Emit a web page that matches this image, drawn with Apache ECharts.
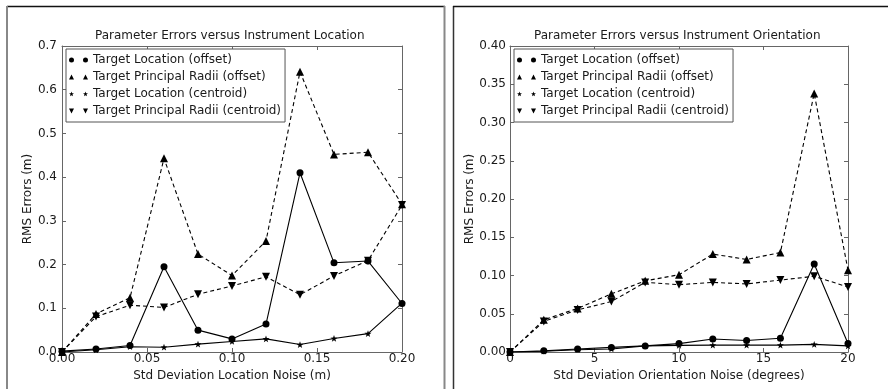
<!DOCTYPE html>
<html>
<head>
<meta charset="utf-8">
<script src="https://cdn.jsdelivr.net/npm/echarts@6/dist/echarts.min.js"></script>
<style>
html,body{margin:0;padding:0;background:#fff;}
#chart{width:888px;height:389px;}
</style>
</head>
<body>
<div id="chart"></div>
<script>
// ---- Data ----
const seriesNames = ['Target Location (offset)', 'Target Principal Radii (offset)', 'Target Location (centroid)', 'Target Principal Radii (centroid)'];

// Left chart: Std Deviation Location Noise (m)
const locNoise = [0.00, 0.02, 0.04, 0.06, 0.08, 0.10, 0.12, 0.14, 0.16, 0.18, 0.20];
const locTargetLocOffset = [0.002, 0.007, 0.015, 0.195, 0.050, 0.030, 0.064, 0.410, 0.204, 0.208, 0.111];
const locRadiiOffset = [0.000, 0.087, 0.124, 0.443, 0.224, 0.175, 0.254, 0.641, 0.452, 0.457, 0.338];
const locTargetLocCentroid = [0.000, 0.005, 0.012, 0.011, 0.018, 0.024, 0.030, 0.017, 0.031, 0.042, 0.112];
const locRadiiCentroid = [0.000, 0.081, 0.107, 0.102, 0.132, 0.151, 0.172, 0.131, 0.174, 0.209, 0.336];

// Right chart: Std Deviation Orientation Noise (degrees)
const oriNoise = [0, 2, 4, 6, 8, 10, 12, 14, 16, 18, 20];
const oriTargetLocOffset = [0.000, 0.0015, 0.004, 0.006, 0.008, 0.011, 0.017, 0.015, 0.018, 0.115, 0.011];
const oriRadiiOffset = [0.000, 0.042, 0.057, 0.076, 0.093, 0.101, 0.128, 0.121, 0.130, 0.338, 0.107];
const oriTargetLocCentroid = [0.000, 0.001, 0.003, 0.004, 0.008, 0.0086, 0.009, 0.009, 0.009, 0.010, 0.008];
const oriRadiiCentroid = [0.000, 0.040, 0.055, 0.066, 0.091, 0.088, 0.091, 0.089, 0.094, 0.099, 0.085];

// Tick labels
const locXTicks = ['0.00', '0.05', '0.10', '0.15', '0.20'];
const locYTicks = ['0.0', '0.1', '0.2', '0.3', '0.4', '0.5', '0.6', '0.7'];
const oriXTicks = ['0', '5', '10', '15', '20'];
const oriYTicks = ['0.00', '0.05', '0.10', '0.15', '0.20', '0.25', '0.30', '0.35', '0.40'];

// ---- Styling ----
const FONT = 'DejaVu Sans';
const TXT = '#1a1a1a';
const AX = '#666';
const STAR = 'path://M0,-10L2.35,-3.24L9.51,-3.09L3.8,1.24L5.88,8.09L0,4L-5.88,8.09L-3.8,1.24L-9.51,-3.09L-2.35,-3.24Z';

const legendIcons = [
  'path://M0,2.5A2.5,2.5,0,1,1,5,2.5A2.5,2.5,0,1,1,0,2.5ZM14,2.5A2.5,2.5,0,1,1,19,2.5A2.5,2.5,0,1,1,14,2.5Z',
  'path://M0,5L2.5,0L5,5ZM14,5L16.5,0L19,5Z',
  'path://M2.5,0.1L3.1,1.8L4.9,1.8L3.5,2.9L4,4.7L2.5,3.7L1,4.7L1.5,2.9L0.1,1.8L1.9,1.8ZM16.5,0.1L17.1,1.8L18.9,1.8L17.5,2.9L18,4.7L16.5,3.7L15,4.7L15.5,2.9L14.1,1.8L15.9,1.8ZM0,0L0,0ZM19,5L19,5Z',
  'path://M0,0L5,0L2.5,5ZM14,0L19,0L16.5,5Z'
];

const grids = [
  {left: 62, top: 46, width: 340, height: 306},
  {left: 510, top: 46, width: 338, height: 306}
];

function tickFmt(arr, min, interval) {
  return function (v) {
    const i = Math.round((v - min) / interval);
    return arr[i] !== undefined ? arr[i] : '';
  };
}

function mkX(gi, min, max, interval, ticks, name, pos) {
  const bottom = pos === 'bottom';
  return {
    type: 'value', gridIndex: gi, position: pos, min: min, max: max, interval: interval,
    name: bottom ? name : '', nameLocation: 'middle', nameGap: 13,
    nameTextStyle: {fontFamily: FONT, fontSize: 12, color: TXT},
    axisLine: {show: true, onZero: false, lineStyle: {color: AX, width: 1}},
    axisTick: {show: true, inside: true, length: 4, lineStyle: {color: AX}},
    axisLabel: {show: bottom, margin: 1, fontFamily: FONT, fontSize: 12, color: TXT,
      formatter: tickFmt(ticks, min, interval)},
    splitLine: {show: false}
  };
}
function mkY(gi, min, max, interval, ticks, name, pos, gap, margin) {
  const left = pos === 'left';
  return {
    type: 'value', gridIndex: gi, position: pos, min: min, max: max, interval: interval,
    name: left ? name : '', nameLocation: 'middle', nameGap: gap,
    nameTextStyle: {fontFamily: FONT, fontSize: 12, color: TXT},
    axisLine: {show: true, onZero: false, lineStyle: {color: AX, width: 1}},
    axisTick: {show: true, inside: true, length: 4, lineStyle: {color: AX}},
    axisLabel: {show: left, margin: margin, fontFamily: FONT, fontSize: 12, color: TXT,
      formatter: tickFmt(ticks, min, interval)},
    splitLine: {show: false}
  };
}

function pairs(xs, ys) { return xs.map(function (x, i) { return [x, ys[i]]; }); }

function mkSeries(gi, xs, ysList) {
  const specs = [
    {symbol: 'circle', size: 7, dash: 'solid', rot: 0},
    {symbol: 'triangle', size: 8, dash: [4, 3], rot: 0},
    {symbol: STAR, size: 7, dash: 'solid', rot: 0},
    {symbol: 'triangle', size: 8, dash: [4, 3], rot: 180}
  ];
  return ysList.map(function (ys, k) {
    const s = specs[k];
    return {
      name: seriesNames[k], type: 'line', xAxisIndex: gi * 2, yAxisIndex: gi * 2,
      data: pairs(xs, ys),
      symbol: s.symbol, symbolSize: s.size, symbolRotate: s.rot, symbolKeepAspect: true,
      showSymbol: true, showAllSymbol: true,
      itemStyle: {color: '#000', borderWidth: 0},
      lineStyle: {color: '#000', width: 1.1, type: s.dash},
      emphasis: {disabled: true}, animation: false, z: 3
    };
  });
}

function mkLegend(left, top) {
  return {
    orient: 'vertical', left: left, top: top,
    padding: [4, 4, 4, 3], itemGap: 3, itemWidth: 19, itemHeight: 5,
    backgroundColor: '#fff', borderColor: '#555', borderWidth: 1, borderRadius: 0,
    selectedMode: false,
    textStyle: {fontFamily: FONT, fontSize: 12, color: TXT, lineHeight: 14, padding: [0, 0, 0, 0]},
    data: seriesNames.map(function (n, i) {
      return {name: n, icon: legendIcons[i], itemStyle: {color: '#000', borderWidth: 0}};
    }),
    z: 10
  };
}

const option = {
  backgroundColor: '#fff',
  animation: false,
  title: [
    {text: 'Parameter Errors versus Instrument Location', left: 95, top: 30, padding: 0,
      textStyle: {fontFamily: FONT, fontSize: 12, fontWeight: 'normal', color: TXT}},
    {text: 'Parameter Errors versus Instrument Orientation', left: 534, top: 30, padding: 0,
      textStyle: {fontFamily: FONT, fontSize: 12, fontWeight: 'normal', color: TXT}}
  ],
  grid: grids,
  legend: [mkLegend(66, 49), mkLegend(514, 49)],
  xAxis: [
    mkX(0, 0, 0.2, 0.05, locXTicks, 'Std Deviation Location Noise (m)', 'bottom'),
    mkX(0, 0, 0.2, 0.05, locXTicks, '', 'top'),
    mkX(1, 0, 20, 5, oriXTicks, 'Std Deviation Orientation Noise (degrees)', 'bottom'),
    mkX(1, 0, 20, 5, oriXTicks, '', 'top')
  ],
  yAxis: [
    mkY(0, 0, 0.7, 0.1, locYTicks, 'RMS Errors (m)', 'left', 25, 5),
    mkY(0, 0, 0.7, 0.1, locYTicks, '', 'right', 25, 5),
    mkY(1, 0, 0.4, 0.05, oriYTicks, 'RMS Errors (m)', 'left', 32, 4),
    mkY(1, 0, 0.4, 0.05, oriYTicks, '', 'right', 32, 4)
  ],
  series: [].concat(
    mkSeries(0, locNoise, [locTargetLocOffset, locRadiiOffset, locTargetLocCentroid, locRadiiCentroid]),
    mkSeries(1, oriNoise, [oriTargetLocOffset, oriRadiiOffset, oriTargetLocCentroid, oriRadiiCentroid])
  ),
  graphic: [
    {type: 'line', shape: {x1: 7, y1: 6.5, x2: 445, y2: 6.5}, style: {stroke: '#111', lineWidth: 1.5}, silent: true},
    {type: 'line', shape: {x1: 7, y1: 6, x2: 7, y2: 389}, style: {stroke: '#888', lineWidth: 2}, silent: true},
    {type: 'line', shape: {x1: 444.5, y1: 6, x2: 444.5, y2: 389}, style: {stroke: '#888', lineWidth: 2}, silent: true},
    {type: 'line', shape: {x1: 453.5, y1: 6, x2: 453.5, y2: 389}, style: {stroke: '#333', lineWidth: 1.5}, silent: true},
    {type: 'line', shape: {x1: 453, y1: 6.5, x2: 888, y2: 6.5}, style: {stroke: '#111', lineWidth: 1.5}, silent: true}
  ]
};

const chart = echarts.init(document.getElementById('chart'), null, {renderer: 'canvas'});
chart.setOption(option);
</script>
</body>
</html>
